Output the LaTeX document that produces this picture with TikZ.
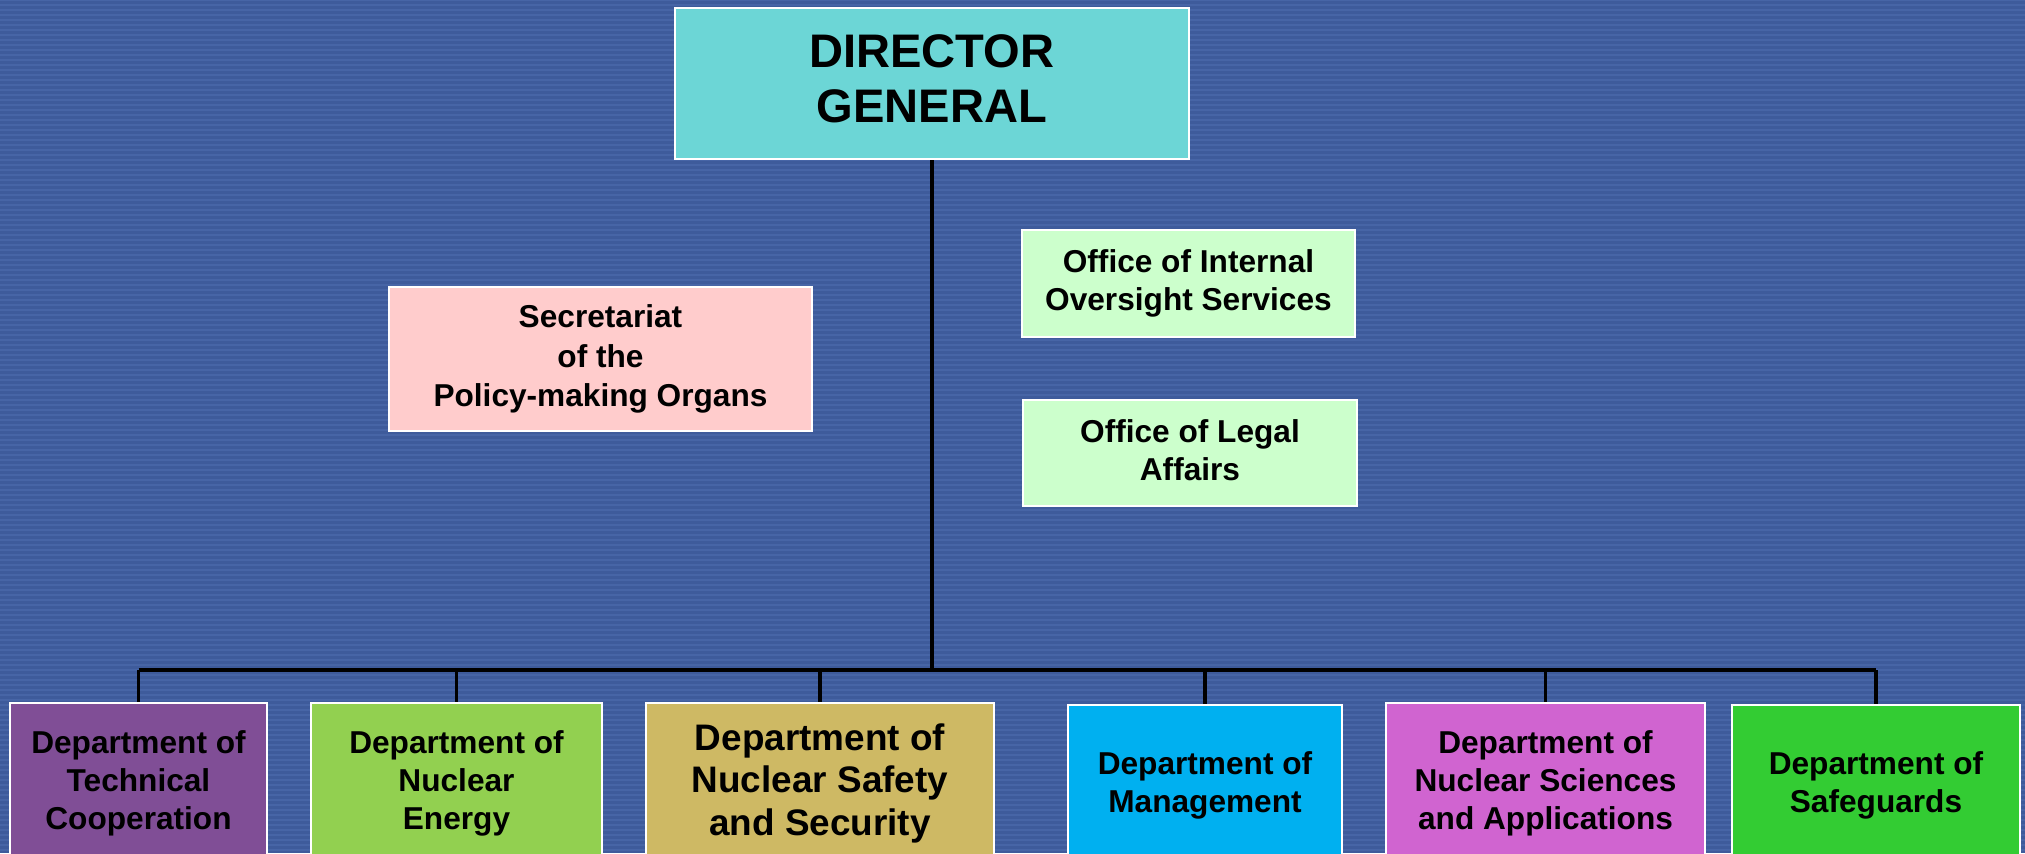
\documentclass[tikz,border=0pt]{standalone}
\usepackage{fontspec}
\setmainfont{Liberation Sans}
\definecolor{bgblue}{RGB}{62,91,155}
\definecolor{bgstripe}{RGB}{71,101,166}
\definecolor{dgcyan}{RGB}{108,214,214}
\definecolor{pinkbox}{RGB}{255,204,204}
\definecolor{mintbox}{RGB}{204,255,204}
\definecolor{tcpurple}{RGB}{128,78,150}
\definecolor{nelime}{RGB}{146,208,80}
\definecolor{nsgold}{RGB}{206,185,100}
\definecolor{mgblue}{RGB}{0,176,240}
\definecolor{namagenta}{RGB}{208,100,208}
\definecolor{sggreen}{RGB}{51,204,51}
\begin{document}
\begin{tikzpicture}[
    box/.style={draw=white, line width=0.6pt, align=center, inner sep=2pt,
        font=\bfseries\fontsize{9}{10.8}\selectfont},
    dept/.style={box, minimum height=1.6cm},
    link/.style={black, line width=1pt}]
    \clip (0,0) rectangle (20.25,-8.53);
    \fill[bgblue] (0,0) rectangle (20.25,-8.53);
    \foreach \y in {0,0.05,...,8.55}
        \draw[bgstripe, line width=0.02cm] (0,-\y) -- (20.25,-\y);
    % top
    \node[box, fill=dgcyan, minimum width=5.14cm, minimum height=1.51cm, text depth=0.1cm,
        font=\bfseries\fontsize{13.4}{15.8}\selectfont] (dg) at (9.32,-0.835) {DIRECTOR\\GENERAL};
    \node[box, fill=pinkbox, minimum width=4.23cm, minimum height=1.44cm,
        font=\bfseries\fontsize{9}{11.2}\selectfont] (spmo) at (6.005,-3.59) {Secretariat\\of the\\Policy-making Organs};
    \node[box, fill=mintbox, minimum width=3.33cm, minimum height=1.07cm] (oios) at (11.885,-2.835) {Office of Internal\\Oversight Services};
    \node[box, fill=mintbox, minimum width=3.34cm, minimum height=1.06cm, text depth=0.06cm] (ola) at (11.90,-4.53) {Office of Legal\\Affairs};
    % departments
    \node[dept, fill=tcpurple, minimum width=2.57cm] (tc) at (1.385,-7.83) {Department of\\Technical\\Cooperation};
    \node[dept, fill=nelime, minimum width=2.91cm] (ne) at (4.565,-7.83) {Department of\\Nuclear\\Energy};
    \node[dept, fill=nsgold, minimum width=3.48cm,
        font=\bfseries\fontsize{10.5}{12.1}\selectfont] (ns) at (8.20,-7.83) {Department of\\Nuclear Safety\\and Security};
    \node[dept, fill=mgblue, minimum width=2.74cm] (mg) at (12.05,-7.85) {Department of\\Management};
    \node[dept, fill=namagenta, minimum width=3.19cm] (na) at (15.455,-7.83) {Department of\\Nuclear Sciences\\and Applications};
    \node[dept, fill=sggreen, minimum width=2.88cm] (sg) at (18.76,-7.85) {Department of\\Safeguards};
    % lines
    \coordinate (bus) at (9.32,-6.70);
    \draw[link] (dg) -- (bus);
    \draw[link] (tc.north |- bus) -- (sg.north |- bus);
    \foreach \d in {tc,ne,ns,mg,na,sg}
        \draw[link] (\d.north |- bus) -- (\d.north);
\end{tikzpicture}
\end{document}
